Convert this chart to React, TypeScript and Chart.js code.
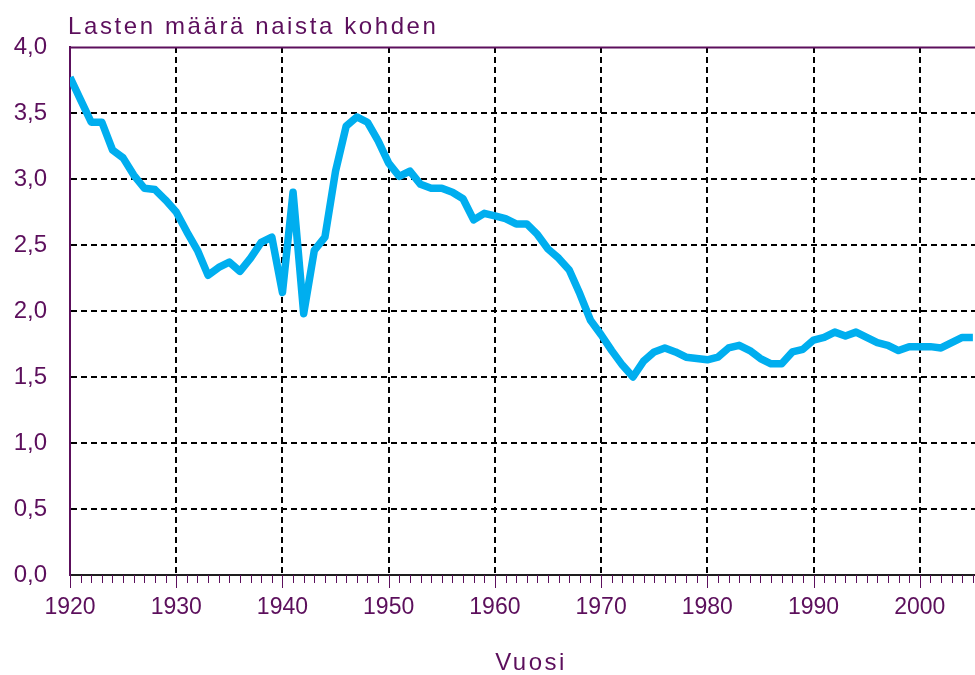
import React, { useEffect, useRef } from 'react';
import { Chart, registerables } from 'chart.js';

Chart.register(...registerables);

const chartTitle = 'Lasten määrä naista kohden';
const xAxisTitle = 'Vuosi';
const firstYear = 1920;
const lastYear = 2005;

// Total fertility rate, 1920 ... 2005 (one value per year)
const tfr = [
  3.77, 3.6, 3.43, 3.43, 3.22, 3.16, 3.03, 2.93, 2.92, 2.84,
  2.75, 2.6, 2.46, 2.27, 2.33, 2.37, 2.3, 2.4, 2.52, 2.56,
  2.14, 2.9, 1.98, 2.46, 2.56, 3.06, 3.4, 3.47, 3.43, 3.29,
  3.12, 3.02, 3.06, 2.96, 2.93, 2.93, 2.9, 2.85, 2.69, 2.74,
  2.72, 2.7, 2.66, 2.66, 2.58, 2.47, 2.4, 2.31, 2.13, 1.93,
  1.82, 1.7, 1.59, 1.5, 1.62, 1.69, 1.72, 1.69, 1.65, 1.64,
  1.63, 1.65, 1.72, 1.74, 1.7, 1.64, 1.6, 1.6, 1.69, 1.71,
  1.78, 1.8, 1.84, 1.81, 1.84, 1.8, 1.76, 1.74, 1.7, 1.73,
  1.73, 1.73, 1.72, 1.76, 1.8, 1.8,
];

const xTickYears = [1920, 1930, 1940, 1950, 1960, 1970, 1980, 1990, 2000];
const yTickValues = [0, 0.5, 1, 1.5, 2, 2.5, 3, 3.5, 4];
const yTickLabels = ['0,0', '0,5', '1,0', '1,5', '2,0', '2,5', '3,0', '3,5', '4,0'];

const PURPLE = '#5c0f5c';
const LINE_BLUE = '#00aeef';
const FONT = "'Liberation Sans', Arial, sans-serif";

export default function App() {
  const ref = useRef<HTMLCanvasElement | null>(null);

  useEffect(() => {
    if (!ref.current) return;
    const points = tfr.map((v, i) => ({ x: firstYear + i, y: v }));
    const allYears: number[] = [];
    for (let y = firstYear; y <= lastYear; y++) allYears.push(y);

    const extras = {
      id: 'extras',
      afterDraw(chart: any) {
        const { ctx, chartArea, scales } = chart;
        const xs = scales.x;
        const ys = scales.y;
        ctx.save();
        // title
        ctx.font = `24px ${FONT}`;
        ctx.fillStyle = PURPLE;
        ctx.textAlign = 'left';
        ctx.textBaseline = 'alphabetic';
        (ctx as any).letterSpacing = '2.6px';
        ctx.fillText(chartTitle, 68, 34);
        // x axis title
        ctx.font = `24px ${FONT}`;
        (ctx as any).letterSpacing = '2.5px';
        const w = ctx.measureText(xAxisTitle).width;
        ctx.fillText(xAxisTitle, 531 - w / 2, 670);
        (ctx as any).letterSpacing = '0px';
        // top frame line
        const yTop = Math.round(ys.getPixelForValue(4)) + 0.5;
        ctx.strokeStyle = PURPLE;
        ctx.lineWidth = 2;
        ctx.beginPath();
        ctx.moveTo(chartArea.left, yTop);
        ctx.lineTo(chartArea.right, yTop);
        ctx.stroke();
        // tick marks under x axis
        ctx.lineWidth = 1;
        const yb = chartArea.bottom;
        allYears.forEach((yr) => {
          const x = Math.round(xs.getPixelForValue(yr)) + 0.5;
          const len = yr % 10 === 0 ? 13 : 8;
          ctx.beginPath();
          ctx.moveTo(x, yb);
          ctx.lineTo(x, yb + len);
          ctx.stroke();
        });
        ctx.restore();
      },
    };

    const chart = new Chart(ref.current, {
      type: 'line',
      data: {
        datasets: [
          {
            data: points,
            borderColor: LINE_BLUE,
            backgroundColor: LINE_BLUE,
            borderWidth: 7.5,
            pointRadius: 0,
            borderJoinStyle: 'round',
            tension: 0,
            fill: false,
          },
        ],
      },
      options: {
        responsive: false,
        animation: false,
        devicePixelRatio: 1,
        layout: { padding: { top: 47, right: 0, left: 0, bottom: 0 } },
        plugins: { legend: { display: false }, tooltip: { enabled: false }, title: { display: false } },
        scales: {
          x: {
            type: 'linear',
            min: firstYear,
            max: lastYear + 0.2,
            afterBuildTicks: (scale: any) => {
              scale.ticks = allYears.map((v) => ({ value: v }));
            },
            afterFit: (scale: any) => {
              scale.height = 100;
              scale.paddingLeft = 0;
              scale.paddingRight = 0;
            },
            ticks: {
              autoSkip: false,
              maxRotation: 0,
              minRotation: 0,
              padding: 19,
              color: PURPLE,
              font: { family: FONT, size: 23 },
              callback: (v: any) => (xTickYears.includes(Number(v)) ? String(v) : ''),
            },
            grid: {
              drawTicks: false,
              lineWidth: 2,
              color: (c: any) =>
                c.tick && c.tick.value % 10 === 0 && c.tick.value !== firstYear ? '#000' : 'rgba(0,0,0,0)',
            },
            border: { display: true, color: '#1e1e1e', width: 2, dash: [6, 4] },
          },
          y: {
            min: 0,
            max: 4,
            afterBuildTicks: (scale: any) => {
              scale.ticks = yTickValues.map((v) => ({ value: v }));
            },
            afterFit: (scale: any) => {
              scale.width = 70;
              scale.paddingTop = 0;
              scale.paddingBottom = 0;
            },
            ticks: {
              padding: 23,
              color: PURPLE,
              font: { family: FONT, size: 24 },
              callback: (_v: any, i: number) => yTickLabels[i],
            },
            grid: {
              drawTicks: false,
              lineWidth: 2,
              color: (c: any) =>
                c.tick && c.tick.value > 0 && c.tick.value < 4 ? '#000' : 'rgba(0,0,0,0)',
            },
            border: { display: true, color: PURPLE, width: 2, dash: [6, 4] },
          },
        },
      },
      plugins: [extras],
    });
    return () => chart.destroy();
  }, []);

  return (
    <div style={{ position: 'fixed', left: 0, top: 0, width: 975, height: 675, background: '#fff' }}>
      <canvas ref={ref} width={975} height={675} style={{ width: 975, height: 675, display: 'block' }} />
    </div>
  );
}
